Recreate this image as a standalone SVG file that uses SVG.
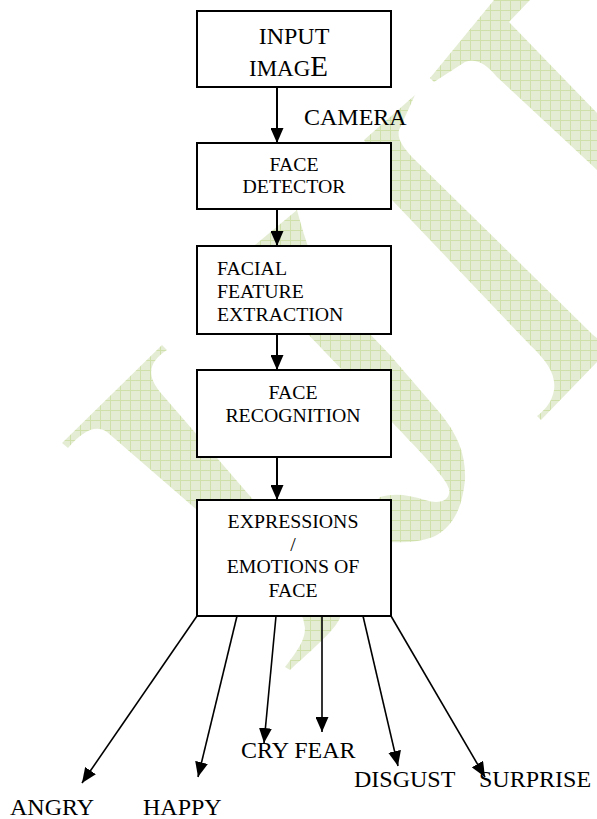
<svg xmlns="http://www.w3.org/2000/svg" width="597" height="819" viewBox="0 0 597 819">
<style>
.box{fill:#fff;stroke:#000;stroke-width:2}
.t{font-family:"Liberation Serif","Times New Roman",serif;fill:#000}
.s{font-size:19.8px}
.l{font-size:24px}
.c{text-anchor:middle}
.conn{stroke:#000;fill:none;marker-end:url(#ah)}
.wm{fill:url(#grid)}
</style>
<defs>
<pattern id="grid" width="10" height="10" patternUnits="userSpaceOnUse">
<rect width="10" height="10" fill="#e4edd4"/>
<path d="M0,0.5H10M0.5,0V10" stroke="#cfe0ab" stroke-width="1"/>
</pattern>
<marker id="ah" viewBox="0 0 15 13" refX="15" refY="6.5" markerWidth="15" markerHeight="13" markerUnits="userSpaceOnUse" orient="auto">
<path d="M0,0L15,6.5L0,13Z" fill="#000"/>
</marker>
</defs>
<rect width="597" height="819" fill="#fff"/>
<g id="watermark">
<path class="wm" d="M494,0 L530,0 L509,22 L597,113 L597,170 L497,77 Q480,56 465,62 L434,82 L430,78 Z"/>
<path class="wm" d="M415,95 L364,140 C378,160 385,185 392,200 L530,345 C548,362 556,375 554,390 C552,402 545,410 537,416 L541,420 L597,362 L597,338 C594,336 591,333 588,330 L412,157 C402,146 397,138 399,130 Z"/>
<path class="wm" d="M297,210 L237,260 L390,420 C420,452 445,476 449,489 C451,500 440,505 425,500 C408,495 396,493 380,497 L360,520 L372,560 L390,542 C400,543 420,542 433,537 C452,528 462,510 465,480 C466,455 458,435 440,413 L390,355 L330,292 C315,270 305,240 297,210 Z"/>
<path class="wm" d="M62,443 L162,345 L167,350 C152,360 144,372 160,392 L340,600 C342,606 341,612 340,618 C334,630 323,640 290,670 L285,667 C298,650 305,640 305,628 L303,618 L197,510 L107,432 C95,424 82,432 68,448 Z"/>
</g>
<g id="connectors">
<line class="conn" x1="277" y1="87" x2="277" y2="143" stroke-width="2"/>
<line class="conn" x1="277" y1="209" x2="277" y2="246" stroke-width="2"/>
<line class="conn" x1="277" y1="334" x2="277" y2="370" stroke-width="2"/>
<line class="conn" x1="277" y1="457" x2="277" y2="500" stroke-width="2"/>
<line class="conn" x1="197" y1="616" x2="82" y2="783" stroke-width="1.6"/>
<line class="conn" x1="237" y1="616" x2="198" y2="777" stroke-width="1.6"/>
<line class="conn" x1="276" y1="616" x2="264" y2="743" stroke-width="1.6"/>
<line class="conn" x1="322" y1="616" x2="322" y2="732" stroke-width="1.6"/>
<line class="conn" x1="363" y1="616" x2="398" y2="766" stroke-width="1.6"/>
<line class="conn" x1="391" y1="616" x2="485" y2="777" stroke-width="1.6"/>
</g>
<g id="input_image">
<rect class="box" x="197" y="11" width="194" height="76"/>
<text class="t c" x="294" y="44" font-size="24">INPUT</text>
<text class="t" x="249" y="76" font-size="23">IMAG<tspan font-size="29">E</tspan></text>
</g>
<g id="camera_label">
<text class="t l" x="304" y="125">CAMERA</text>
</g>
<g id="face_detector">
<rect class="box" x="197" y="143" width="194" height="66"/>
<text class="t s c" x="294" y="171">FACE</text>
<text class="t s c" x="294" y="193">DETECTOR</text>
</g>
<g id="facial_feature_extraction">
<rect class="box" x="197" y="246" width="194" height="88"/>
<text class="t s" x="217" y="275">FACIAL</text>
<text class="t s" x="217" y="298">FEATURE</text>
<text class="t s" x="217" y="321">EXTRACTION</text>
</g>
<g id="face_recognition">
<rect class="box" x="197" y="370" width="194" height="87"/>
<text class="t s c" x="293" y="399">FACE</text>
<text class="t s c" x="293" y="422">RECOGNITION</text>
</g>
<g id="expressions">
<rect class="box" x="197" y="500" width="194" height="116"/>
<text class="t s c" x="293" y="528">EXPRESSIONS</text>
<text class="t s c" x="293" y="551">/</text>
<text class="t s c" x="293" y="573">EMOTIONS OF</text>
<text class="t s c" x="293" y="597">FACE</text>
</g>
<g id="angry"><text class="t l" x="10" y="815">ANGRY</text></g>
<g id="happy"><text class="t l" x="143" y="815">HAPPY</text></g>
<g id="cry_fear"><text class="t l" x="241" y="758">CRY FEAR</text></g>
<g id="disgust"><text class="t l" x="354" y="787">DISGUST</text></g>
<g id="surprise"><text class="t l" x="479" y="787">SURPRISE</text></g>
</svg>
